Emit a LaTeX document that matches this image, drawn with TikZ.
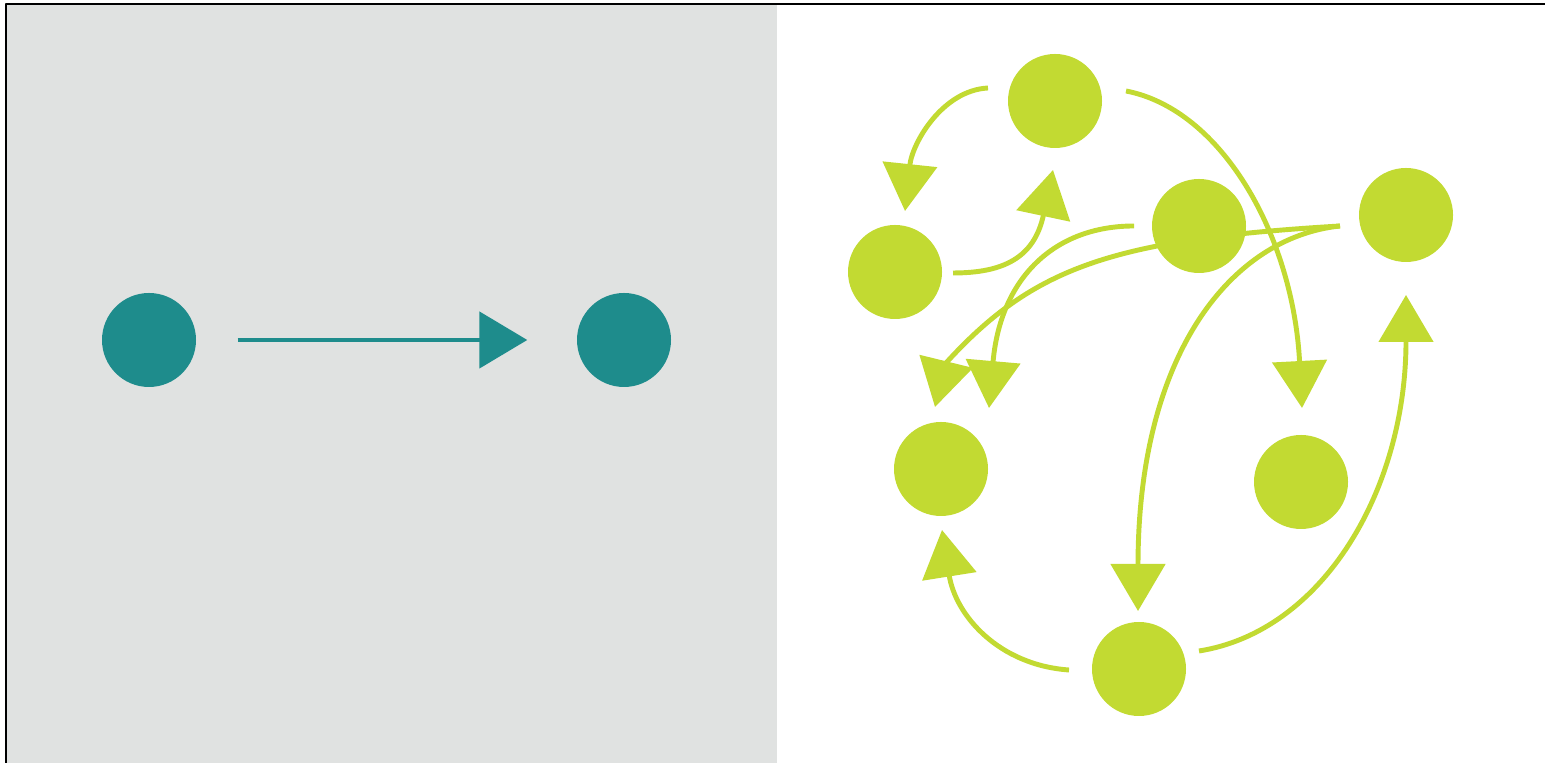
\documentclass[tikz,border=0pt]{standalone}
\usetikzlibrary{arrows.meta,backgrounds}
\definecolor{panelgray}{HTML}{E0E2E1}
\definecolor{dotteal}{HTML}{1E8C8C}
\definecolor{dotlime}{HTML}{C2DA32}
\begin{document}
\begin{tikzpicture}[line join=round,>={Triangle[length=0.47cm,width=0.54cm]}]
					\tikzset{tdot/.style={circle,fill=dotteal,minimum size=0.94cm,inner sep=0pt},
						gdot/.style={circle,fill=dotlime,minimum size=0.94cm,inner sep=0pt},
						garrow/.style={->,dotlime,line width=1.4pt}}
					\useasboundingbox (0,0) rectangle (15.45,7.63);
					\fill[panelgray] (0.07,0) rectangle (7.77,7.58);
					\draw[line width=0.6pt] (0.06,0)--(0.06,7.59)--(15.45,7.59);
					\node[tdot] (t1) at (1.49,4.23) {};
					\node[tdot] (t2) at (6.24,4.23) {};
					\draw[dotteal,line width=1.4pt,-{Triangle[length=0.48cm,width=0.56cm]}] ([xshift=0.41cm]t1.east)--([xshift=-0.49cm]t2.west);
					\foreach \n/\x/\y in {n1/10.55/6.62,n2/8.95/4.91,n3/11.99/5.37,n4/14.06/5.48,n5/9.41/2.94,n6/13.01/2.81,n7/11.39/0.94}
					\node[gdot] (\n) at (\x,\y) {};
					\begin{scope}[on background layer]
						\draw[garrow] ([shift={(-0.67,0.13)}]n1.center) .. controls +(183:0.46) and +(84:0.68) .. ([shift={(0.10,0.61)}]n2.center);
						\draw[garrow] ([shift={(0.58,-0.01)}]n2.center) .. controls +(0:0.5) and +(258:0.9) .. ([shift={(-0.02,-0.69)}]n1.center);
						\draw[garrow] ([shift={(0.71,0.10)}]n1.center) .. controls +(-11:0.98) and +(93:1.72) .. ([shift={(0.01,0.74)}]n6.center);
						\draw[garrow] ([shift={(-0.65,0)}]n3.center) .. controls +(180:0.8) and +(85:1.3) .. ([shift={(0.48,0.61)}]n5.center);
						\draw[garrow] ([shift={(-0.66,-0.11)}]n4.center) .. controls +(183.4:2.28) and +(47.7:1.3) .. ([shift={(0.047,1.057)}]n5.center) -- ([shift={(-0.06,0.62)}]n5.center);
						\draw[garrow] ([shift={(-0.66,-0.11)}]n4.center) .. controls +(186:1.1) and +(90:2.56) .. ([shift={(-0.01,0.58)}]n7.center);
						\draw[garrow] ([shift={(-0.70,-0.01)}]n7.center) .. controls +(176:0.70) and +(279:0.87) .. ([shift={(0.01,-0.61)}]n5.center);
						\draw[garrow] ([shift={(0.60,0.18)}]n7.center) .. controls +(9:1.26) and +(270:1.94) .. ([shift={(0,-0.80)}]n4.center);
					\end{scope}
\end{tikzpicture}
\end{document}
